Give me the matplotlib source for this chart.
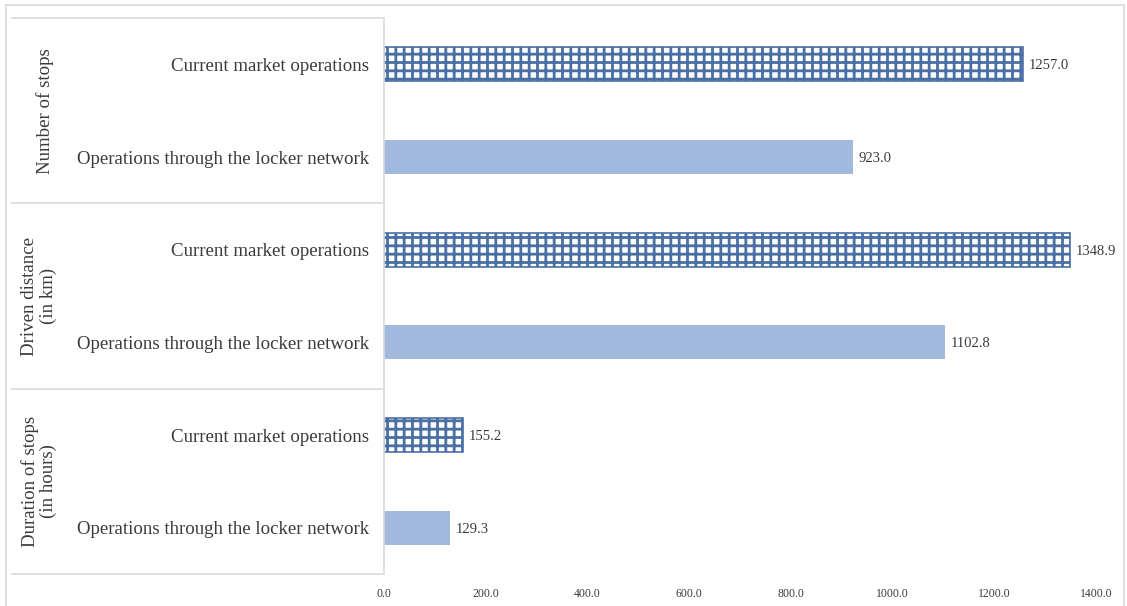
import matplotlib
matplotlib.use("Agg")
import matplotlib.pyplot as plt
import matplotlib.transforms as mtransforms
from matplotlib.lines import Line2D

# Data
groups = ["Number of stops", "Driven distance\n(in km)", "Duration of stops\n(in hours)"]
scenarios = ["Current market operations", "Operations through the locker network"]
current_values = [1257.0, 1348.9, 155.2]
locker_values = [923.0, 1102.8, 129.3]
x_ticks = [0, 200, 400, 600, 800, 1000, 1200, 1400]

TEXT = "#3a3a3a"
GRID = "#d9d9d9"
SOLID = "#a0b9dd"
HATCH = "#4a6fa5"
FONT = ["Liberation Serif", "DejaVu Serif"]

plt.rcParams["hatch.linewidth"] = 2.0
plt.rcParams["font.family"] = FONT

W, H = 1127, 606
fig = plt.figure(figsize=(W / 100, H / 100), dpi=100)
fig.patch.set_facecolor("white")

left, right, top, bottom = 384, 1096, 18, 574
ax = fig.add_axes([left / W, 1 - bottom / H, (right - left) / W, (bottom - top) / H])

labels, values, kinds = [], [], []
for c, l in zip(current_values, locker_values):
    labels += scenarios
    values += [c, l]
    kinds += ["hatch", "solid"]

positions = list(range(len(values)))
bar_h = 0.37
for y, v, k in zip(positions, values, kinds):
    if k == "hatch":
        ax.barh(y, v, height=bar_h, facecolor="white", edgecolor=HATCH,
                hatch="++", linewidth=1.2)
    else:
        ax.barh(y, v, height=bar_h, color=SOLID, edgecolor="none")
    ax.annotate(f"{v:.1f}", xy=(v, y), xytext=(4, -1), textcoords="offset points",
                ha="left", va="center", fontsize=10.5, color=TEXT)

ax.set_xlim(0, 1400)
ax.set_ylim(len(values) - 0.5, -0.5)
ax.set_xticks(x_ticks)
ax.set_xticklabels([f"{t:.1f}" for t in x_ticks], fontsize=8.5, color=TEXT)
ax.set_yticks(positions)
ax.set_yticklabels(labels, fontsize=13.6, color=TEXT)
ax.tick_params(axis="both", length=0)
ax.tick_params(axis="y", pad=11)
ax.tick_params(axis="x", pad=10)
for side in ["top", "right", "bottom"]:
    ax.spines[side].set_visible(False)
ax.spines["left"].set_color(GRID)
ax.spines["left"].set_linewidth(1.2)

# Category table lines on the left
trans = mtransforms.blended_transform_factory(ax.transAxes, ax.transData)
x_start = (12 - left) / (right - left)
for b in [-0.5, 1.5, 3.5, 5.5]:
    ax.add_line(Line2D([x_start, 0], [b, b], transform=trans, color=GRID,
                       linewidth=1.2, clip_on=False))

# Group labels, rotated, centred in each band
for g, name in enumerate(groups):
    gx = 45 if "\n" not in name else 39
    ax.text((gx - left) / (right - left), 2 * g + 0.5, name, transform=trans,
            rotation=90, ha="center", va="center", fontsize=13.6, color=TEXT,
            multialignment="center", linespacing=1.1)

# Outer chart border
for xs, ys in [((6, 1124), (5, 5)), ((6, 6), (5, 606)), ((1124, 1124), (5, 606))]:
    fig.add_artist(Line2D([x / W for x in xs], [1 - y / H for y in ys],
                          transform=fig.transFigure, color=GRID, linewidth=1.2))

fig.savefig("out.png", dpi=100, facecolor="white")
